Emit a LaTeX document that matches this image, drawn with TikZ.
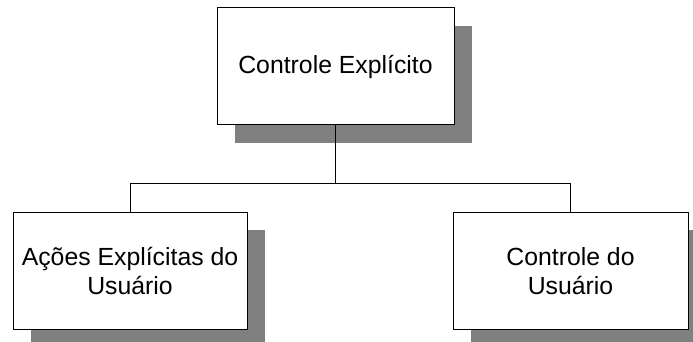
\documentclass[tikz,border=0pt]{standalone}
\usepackage{fontspec}
\setmainfont{Liberation Sans}
\usetikzlibrary{shadows}
\begin{document}
\begin{tikzpicture}[x=1pt,y=1pt,
  box/.style={draw=black, line width=1pt, fill=white, align=center, inner sep=0pt,
    minimum height=117pt,
    font=\fontsize{24.8}{28.5}\selectfont,
    drop shadow={shadow xshift=18pt, shadow yshift=-18pt, fill=black!50, opacity=1}},
  link/.style={draw=black, line width=1pt}]
\useasboundingbox (0,0) rectangle (693,342);
\node[box, minimum width=237pt] (top) at (335.5,275.5) {Controle Explícito};
\node[box, minimum width=234pt] (left) at (130,71) {Ações Explícitas do\\Usuário};
\node[box, minimum width=235pt] (right) at (570.5,71) {Controle do\\Usuário};
\coordinate (bar) at (335.5,158.5);
\draw[link] (top.south) -- (bar);
\draw[link] (left.north) |- (bar) -| (right.north);
\end{tikzpicture}
\end{document}
